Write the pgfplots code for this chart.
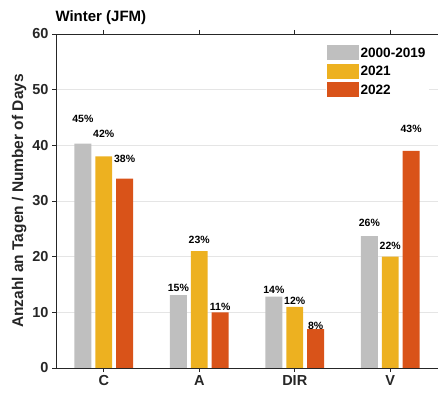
\documentclass[border=0pt]{standalone}
\usepackage{pgfplots}
\pgfplotsset{compat=1.18}
\usepackage{fontspec}
\setmainfont{Liberation Sans}
\definecolor{cgray}{RGB}{191,191,191}
\definecolor{cyel}{RGB}{237,177,32}
\definecolor{cred}{RGB}{217,83,25}
\definecolor{axgray}{RGB}{38,38,38}
\begin{document}
\begin{tikzpicture}
\useasboundingbox (0,0) rectangle (438bp,395bp);
\begin{axis}[
 at={(56bp,27bp)}, anchor=south west,
 scale only axis, width=382bp, height=334bp,
 xmin=-0.5, xmax=3.5, ymin=0, ymax=60,
 xtick={0,1,2,3}, xticklabels={C,A,DIR,V},
 ytick={0,10,...,60},
 axis x line*=box, axis y line*=left,
 tick align=outside, major tick length=4bp,
 ymajorgrids, grid style={draw=black!10, line width=0.8bp},
 axis line style={axgray, line width=0.9bp},
 tick style={axgray, line width=0.9bp},
 tick label style={font=\fontsize{14.5bp}{16bp}\selectfont\bfseries, text=axgray},
 /pgf/number format/assume math mode=true,
 ylabel={Anzahl an Tagen / Number of Days},
 ylabel style={font=\fontsize{15.5bp}{17bp}\selectfont\bfseries, text=axgray, yshift=-1bp},
 title={Winter (JFM)},
 title style={at={(rel axis cs:0,1)}, anchor=base west, yshift=6.5bp, xshift=-4bp, font=\fontsize{15bp}{17bp}\selectfont\bfseries},
 legend cell align=left,
 legend style={at={(rel axis cs:0.705,0.97)}, anchor=north west, draw=none, fill=white,
   font=\fontsize{13.6bp}{15bp}\selectfont\bfseries, row sep=3bp, inner sep=1bp},
]
\addplot[ybar, bar width=0.177, bar shift=-0.219, fill=cgray, draw=none,
  legend image code/.code={\fill[cgray] (0bp,-7bp) rectangle (32bp,8bp);}]
  coordinates {(0,40.3) (1,13.1) (2,12.8) (3,23.7)};
\addlegendentry{2000-2019}
\addplot[ybar, bar width=0.177, bar shift=0, fill=cyel, draw=none,
  legend image code/.code={\fill[cyel] (0bp,-7bp) rectangle (32bp,8bp);}]
  coordinates {(0,38) (1,21) (2,11) (3,20)};
\addlegendentry{2021}
\addplot[ybar, bar width=0.177, bar shift=0.219, fill=cred, draw=none,
  legend image code/.code={\fill[cred] (0bp,-7bp) rectangle (32bp,8bp);}]
  coordinates {(0,34) (1,10) (2,7) (3,39)};
\addlegendentry{2022}
\begin{scope}[every node/.style={font=\fontsize{10.5bp}{12bp}\selectfont\bfseries}]
\node at (axis cs:-0.219,44.7) {45\%};
\node at (axis cs:0,42.0) {42\%};
\node at (axis cs:0.219,37.5) {38\%};
\node at (axis cs:0.781,14.3) {15\%};
\node at (axis cs:1,23.1) {23\%};
\node at (axis cs:1.219,10.9) {11\%};
\node at (axis cs:1.781,14.0) {14\%};
\node at (axis cs:2,12.0) {12\%};
\node at (axis cs:2.219,7.6) {8\%};
\node at (axis cs:2.781,26.0) {26\%};
\node at (axis cs:3,22.0) {22\%};
\node at (axis cs:3.219,43.0) {43\%};
\end{scope}
\end{axis}
\end{tikzpicture}
\end{document}
